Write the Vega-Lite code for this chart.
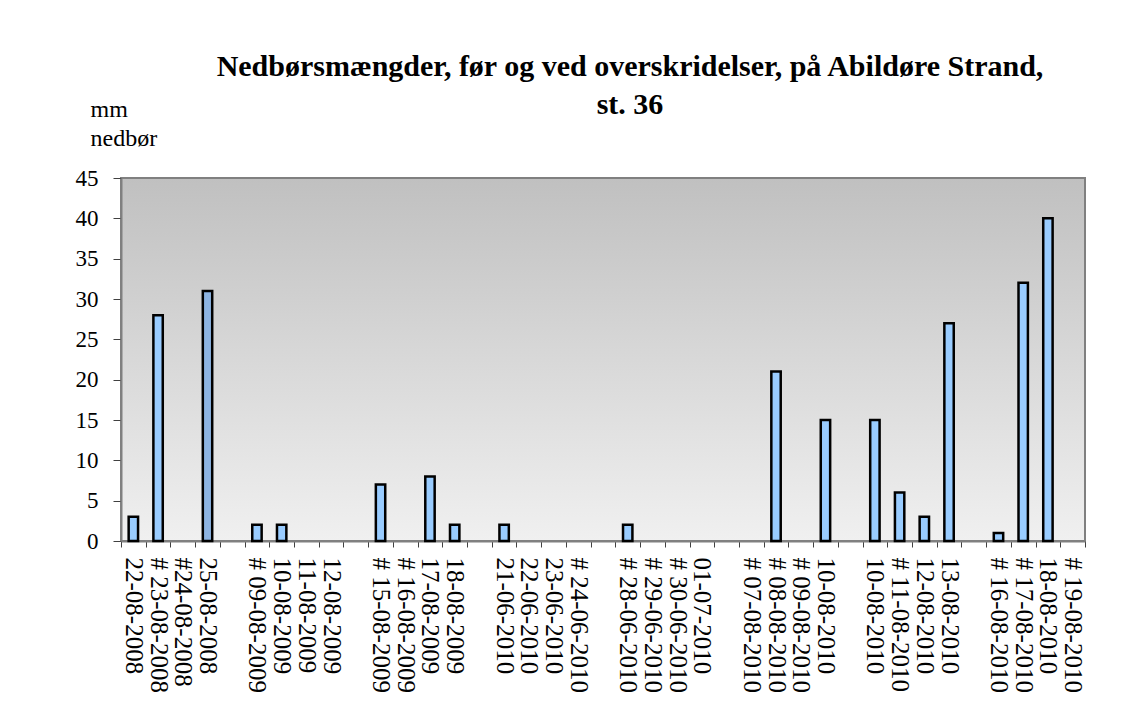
{
  "$schema": "https://vega.github.io/schema/vega-lite/v6.json",
  "width": 964,
  "height": 363,
  "autosize": {"type": "none"},
  "padding": {"left": 121, "top": 178, "right": 57, "bottom": 163},
  "background": "white",
  "title": {
    "text": ["Nedbørsmængder, før og ved overskridelser, på Abildøre Strand,", "st. 36"],
    "font": "Liberation Serif",
    "fontSize": 30,
    "fontWeight": "bold",
    "color": "black",
    "anchor": "middle",
    "frame": "group",
    "dx": 27,
    "dy": 33,
    "lineHeight": 38,
    "offset": 10
  },
  "data": {
    "values": [
      {"date": "22-08-2008", "mm": 3},
      {"date": "# 23-08-2008", "mm": 28},
      {"date": "25-08-2008", "mm": 31},
      {"date": "# 09-08-2009", "mm": 2},
      {"date": "10-08-2009", "mm": 2},
      {"date": "# 15-08-2009", "mm": 7},
      {"date": "17-08-2009", "mm": 8},
      {"date": "18-08-2009", "mm": 2},
      {"date": "21-06-2010", "mm": 2},
      {"date": "# 28-06-2010", "mm": 2},
      {"date": "# 08-08-2010", "mm": 21},
      {"date": "10-08-2010", "mm": 15},
      {"date": "10-08-2010 ", "mm": 15},
      {"date": "# 11-08-2010", "mm": 6},
      {"date": "12-08-2010", "mm": 3},
      {"date": "13-08-2010", "mm": 27},
      {"date": "# 16-08-2010", "mm": 1},
      {"date": "# 17-08-2010", "mm": 32},
      {"date": "18-08-2010", "mm": 40}
    ]
  },
  "mark": {"type": "bar", "stroke": "black", "strokeWidth": 2.5, "width": {"band": 0.38}},
  "encoding": {
    "x": {
      "field": "date",
      "type": "nominal",
      "sort": null,
      "scale": {
        "domain": ["22-08-2008", "# 23-08-2008", "#24-08-2008", "25-08-2008", " ", "# 09-08-2009", "10-08-2009", "11-08-2009", "12-08-2009", "  ", "# 15-08-2009", "# 16-08-2009", "17-08-2009", "18-08-2009", "   ", "21-06-2010", "22-06-2010", "23-06-2010", "# 24-06-2010", "    ", "# 28-06-2010", "# 29-06-2010", "# 30-06-2010", "01-07-2010", "     ", "# 07-08-2010", "# 08-08-2010", "# 09-08-2010", "10-08-2010", "      ", "10-08-2010 ", "# 11-08-2010", "12-08-2010", "13-08-2010", "       ", "# 16-08-2010", "# 17-08-2010", "18-08-2010", "# 19-08-2010"],
        "paddingInner": 0,
        "paddingOuter": 0
      },
      "axis": {
        "title": null,
        "labelAngle": 90,
        "labelAlign": "left",
        "labelBaseline": "middle",
        "labelFont": "Liberation Serif",
        "labelFontSize": 25,
        "labelColor": "black",
        "labelPadding": 10,
        "labelOverlap": false,
        "labelLimit": 0,
        "tickBand": "extent",
        "tickSize": 6,
        "tickColor": "#404040",
        "tickWidth": 1,
        "domainColor": "#808080",
        "domainWidth": 2,
        "grid": false
      }
    },
    "y": {
      "field": "mm",
      "type": "quantitative",
      "scale": {"domain": [0, 45], "nice": false},
      "axis": {
        "values": [0, 5, 10, 15, 20, 25, 30, 35, 40, 45],
        "title": ["mm", "nedbør"],
        "titleAngle": 0,
        "titleAlign": "left",
        "titleBaseline": "alphabetic",
        "titleX": -31,
        "titleY": -62,
        "titleFont": "Liberation Serif",
        "titleFontSize": 24,
        "titleFontWeight": "normal",
        "titleLineHeight": 29,
        "titleColor": "black",
        "labelFont": "Liberation Serif",
        "labelFontSize": 23,
        "labelColor": "black",
        "labelPadding": 15,
        "tickSize": 8,
        "tickColor": "#404040",
        "domainColor": "#808080",
        "domainWidth": 2,
        "grid": false
      }
    },
    "color": {
      "condition": {"test": "datum.date === '25-08-2008'", "value": "#8db4e2"},
      "value": "#99ccff"
    }
  },
  "config": {
    "view": {
      "stroke": "#808080",
      "strokeWidth": 2,
      "fill": {
        "gradient": "linear",
        "x1": 0, "y1": 0, "x2": 0, "y2": 1,
        "stops": [
          {"offset": 0, "color": "#c0c0c0"},
          {"offset": 1, "color": "#f0f0f0"}
        ]
      }
    }
  }
}
